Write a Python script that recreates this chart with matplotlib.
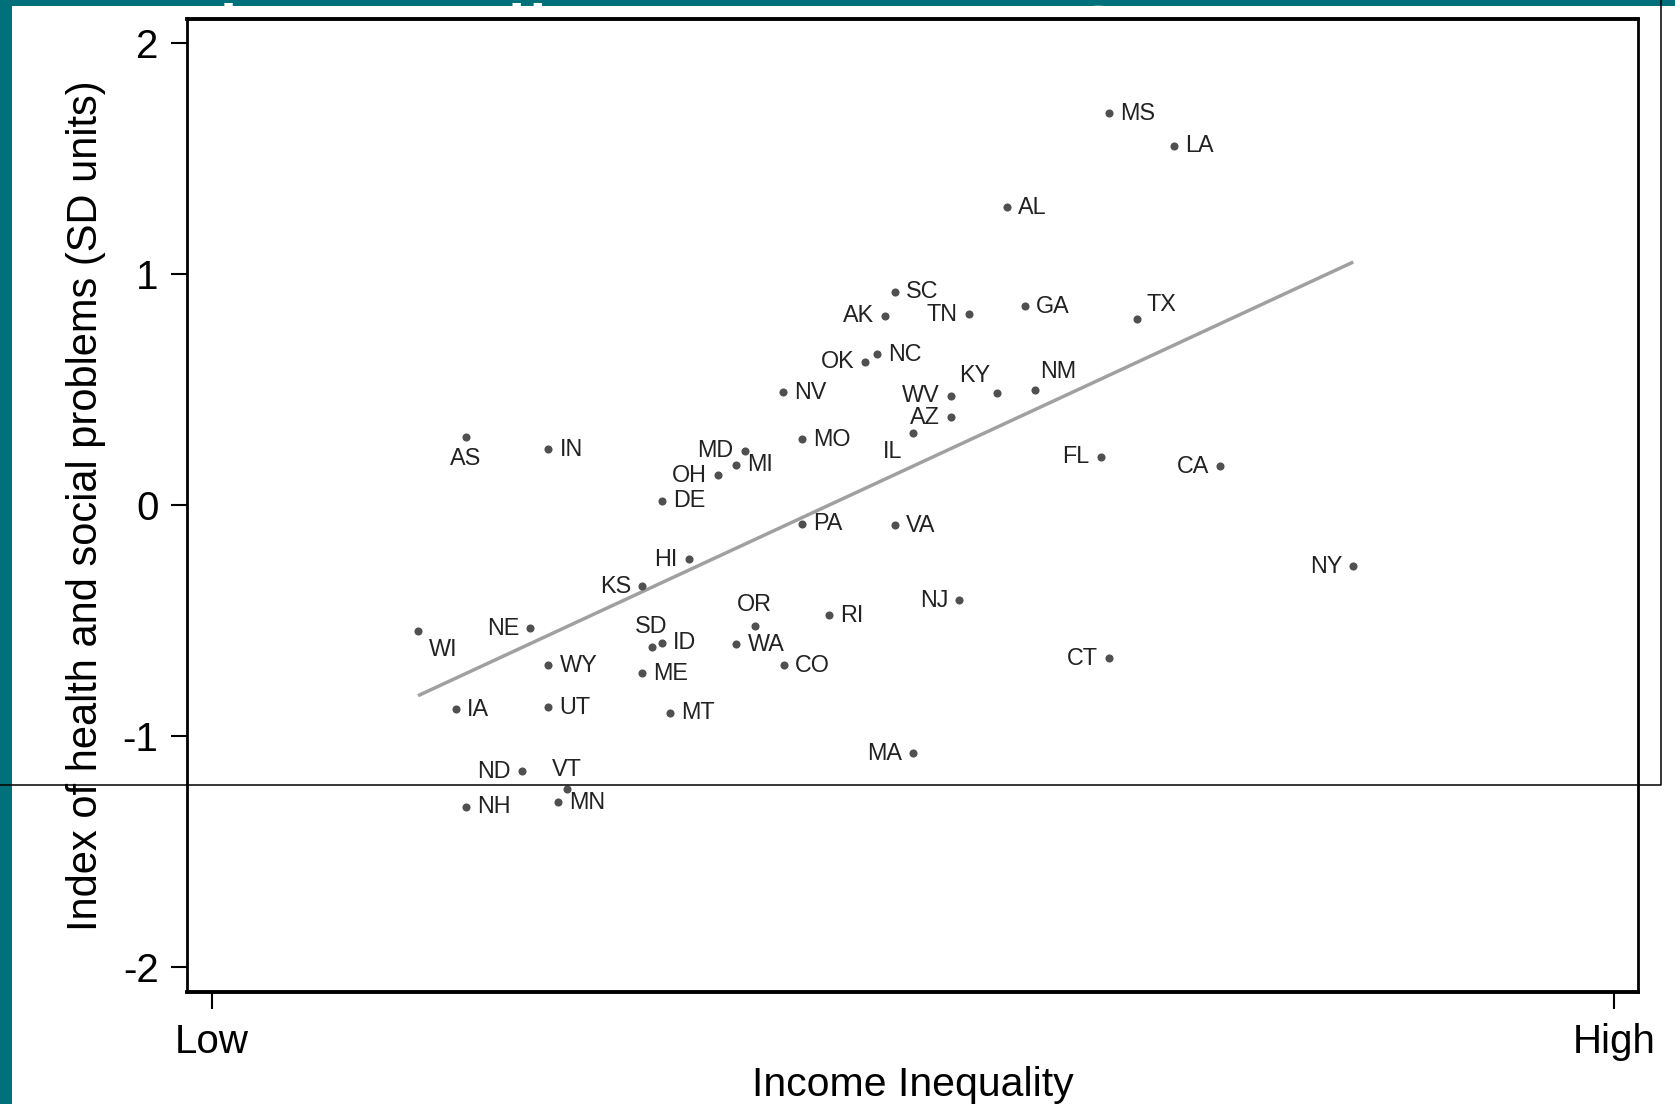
import numpy as np
import matplotlib.pyplot as plt
from matplotlib.lines import Line2D
from matplotlib.patches import Rectangle

plt.rcParams['font.family'] = ['Liberation Sans', 'DejaVu Sans']
plt.rcParams['axes.unicode_minus'] = False

# US states: income inequality (scaled Low=0 .. High=1) vs index of health and social problems
states = ['MS', 'LA', 'AL', 'SC', 'AK', 'TN', 'GA', 'TX', 'OK', 'NC',
          'NV', 'KY', 'NM', 'WV', 'AZ', 'IL', 'MO', 'MD', 'MI', 'OH',
          'DE', 'AS', 'IN', 'FL', 'CA', 'PA', 'VA', 'NY', 'HI', 'KS',
          'NJ', 'OR', 'RI', 'NE', 'WI', 'SD', 'ID', 'WA', 'CO', 'WY',
          'ME', 'CT', 'IA', 'UT', 'MT', 'MA', 'ND', 'VT', 'MN', 'NH']
inequality = [0.640, 0.686, 0.567, 0.487, 0.480, 0.540, 0.580, 0.660, 0.466, 0.474,
              0.407, 0.560, 0.587, 0.527, 0.527, 0.500, 0.421, 0.380, 0.374, 0.361,
              0.321, 0.181, 0.240, 0.634, 0.719, 0.421, 0.487, 0.814, 0.340, 0.307,
              0.533, 0.387, 0.440, 0.227, 0.147, 0.314, 0.321, 0.374, 0.408, 0.240,
              0.307, 0.640, 0.174, 0.240, 0.327, 0.500, 0.221, 0.253, 0.247, 0.181]
index = [1.697, 1.555, 1.290, 0.923, 0.819, 0.825, 0.861, 0.806, 0.620, 0.652,
         0.488, 0.484, 0.496, 0.474, 0.380, 0.312, 0.285, 0.236, 0.174, 0.130,
         0.019, 0.296, 0.242, 0.210, 0.168, -0.082, -0.087, -0.265, -0.235, -0.351,
         -0.413, -0.522, -0.478, -0.533, -0.544, -0.614, -0.596, -0.602, -0.694, -0.694,
         -0.729, -0.663, -0.885, -0.875, -0.900, -1.075, -1.152, -1.231, -1.286, -1.307]

yticks = [-2, -1, 0, 1, 2]
xticks = [0, 1]
xticklabels = ['Low', 'High']

# marker label placement (clock position style), default is to the right
lab_left = ['AK', 'TN', 'OK', 'WV', 'AZ', 'MD', 'OH', 'FL', 'CA', 'NY', 'HI',
            'KS', 'NJ', 'NE', 'CT', 'MA', 'ND']
lab_special = {'OR': (0, 15, 'center'), 'VT': (0, 14.5, 'center'), 'SD': (-1, 15, 'center'),
               'AS': (0, -16, 'center'), 'KY': (-16.5, 13, 'center'), 'NM': (16.5, 13.5, 'center'),
               'TX': (17.5, 10.5, 'center'), 'IL': (-15, -13.5, 'center'), 'WI': (18, -13.5, 'center')}

x = np.array(inequality)
y = np.array(index)

fig = plt.figure(figsize=(16.75, 11.04), dpi=100)

# slide background: teal strips and the clipped white title line
fig.add_artist(Rectangle((0, 0), 12/1675, 1, transform=fig.transFigure,
                         facecolor='#00707a', edgecolor='none', zorder=-3))
fig.add_artist(Rectangle((0, 1 - 6/1104), 1, 6/1104, transform=fig.transFigure,
                         facecolor='#00707a', edgecolor='none', zorder=-3))
fig.text(218/1675, 1 - 73/1104, 'inequality among U.S. states', color='white',
         fontsize=69, ha='left', va='baseline', zorder=-2)

ax = fig.add_axes([187/1675, 1 - 992/1104, (1638-187)/1675, (992-19)/1104])
ax.set_facecolor('white')

ax.scatter(x, y, s=34, color='#505050', zorder=3, linewidths=0)

# linear fit
b, a = np.polyfit(x, y, 1)
xf = np.array([x.min(), x.max()])
ax.plot(xf, a + b*xf, color='#a0a0a0', lw=2.5, zorder=2, solid_capstyle='butt')

for s, xi, yi in zip(states, x, y):
    if s in lab_special:
        dx, dy, ha = lab_special[s]
    elif s in lab_left:
        dx, dy, ha = -8, 0, 'right'
    else:
        dx, dy, ha = 8, 0, 'left'
    ax.annotate(s, (xi, yi), xytext=(dx, dy), textcoords='offset points',
                ha=ha, va='center', fontsize=16.8, color='#222222')

ax.set_xlim(-0.0178, 1.0171)
ax.set_ylim(-2.108, 2.104)
ax.set_yticks(yticks)
ax.set_yticklabels([str(t) for t in yticks])
ax.set_xticks(xticks)
ax.set_xticklabels(xticklabels)
ax.tick_params(axis='y', length=11.5, width=1.5, pad=9, labelsize=29)
ax.tick_params(axis='x', length=12, width=1.5, pad=10, labelsize=29)

for side in ['top', 'bottom']:
    ax.spines[side].set_linewidth(2.8)
for side in ['left', 'right']:
    ax.spines[side].set_linewidth(2.0)

ax.set_ylabel('Index of health and social problems (SD units)', fontsize=30)
ax.yaxis.set_label_coords(-0.056, 0.5)
ax.set_xlabel('Income Inequality', fontsize=29.5)
ax.xaxis.set_label_coords(0.5, -0.076)

# thin frame line crossing the slide
fig.add_artist(Line2D([0, 1661/1675, 1661/1675], [1 - 785/1104, 1 - 785/1104, 1],
                      transform=fig.transFigure, color='black', lw=1.1, zorder=5))

fig.savefig('out.png', dpi=100)
